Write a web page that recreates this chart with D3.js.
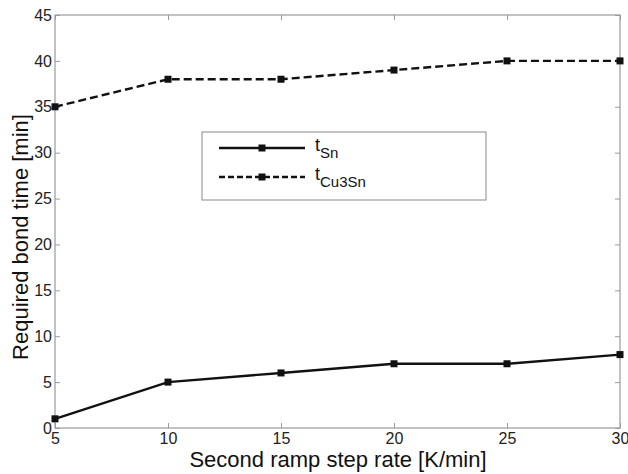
<!DOCTYPE html>
<html>
<head>
<meta charset="utf-8">
<script src="https://cdn.jsdelivr.net/npm/d3@7"></script>
<style>
  body { margin: 0; background: #fff; }
  text { font-family: "Liberation Sans", Arial, sans-serif; }
</style>
</head>
<body>
<div id="chart"></div>
<script>
// data
var rates = [5, 10, 15, 20, 25, 30];
var tSn = [1, 5, 6, 7, 7, 8];
var tCu3Sn = [35, 38, 38, 39, 40, 40];
var xTicks = [5, 10, 15, 20, 25, 30];
var yTicks = [0, 5, 10, 15, 20, 25, 30, 35, 40, 45];

var W = 628, H = 474;
var margin = {top: 15, right: 8, bottom: 46, left: 55},
    width = W - margin.left - margin.right,
    height = H - margin.top - margin.bottom;

var svg = d3.select("#chart").append("svg")
    .attr("width", W)
    .attr("height", H);

var g = svg.append("g")
    .attr("transform", "translate(" + margin.left + "," + margin.top + ")");

var x = d3.scaleLinear().domain([5, 30]).range([0, width]);
var y = d3.scaleLinear().domain([0, 45]).range([height, 0]);

var axisColor = "#9a9a9a";

// frame
g.append("rect")
  .attr("width", width).attr("height", height)
  .attr("fill", "none").attr("stroke", axisColor).attr("stroke-width", 1.2);

// axes (ticks inward, also on top/right)
function styleAxis(sel) {
  sel.select(".domain").remove();
  sel.selectAll(".tick line").attr("stroke", axisColor);
  sel.selectAll(".tick text").attr("fill", "#222").style("font-size", "16px")
     .style("font-family", "Liberation Sans, Arial, sans-serif");
}
g.append("g").attr("transform", "translate(0," + height + ")")
  .call(d3.axisBottom(x).tickValues(xTicks).tickSize(-5).tickPadding(5))
  .call(styleAxis);
g.append("g")
  .call(d3.axisLeft(y).tickValues(yTicks).tickSize(-5).tickPadding(3))
  .call(styleAxis);
g.append("g")
  .call(d3.axisTop(x).tickValues(xTicks).tickSize(-5).tickFormat(""))
  .call(styleAxis);
g.append("g").attr("transform", "translate(" + width + ",0)")
  .call(d3.axisRight(y).tickValues(yTicks).tickSize(-5).tickFormat(""))
  .call(styleAxis);

// axis labels
svg.append("text")
  .attr("x", 338).attr("y", 467)
  .attr("text-anchor", "middle").style("font-size", "22px").attr("fill", "#111")
  .text("Second ramp step rate [K/min]");
svg.append("text")
  .attr("transform", "translate(28,237) rotate(-90)")
  .attr("text-anchor", "middle").style("font-size", "22px").attr("fill", "#111")
  .text("Required bond time [min]");

var line = d3.line()
  .x(function(d, i) { return x(rates[i]); })
  .y(function(d) { return y(d); });

function drawSeries(values, dash) {
  g.append("path").datum(values)
    .attr("d", line)
    .attr("fill", "none").attr("stroke", "#111").attr("stroke-width", 2.4)
    .attr("stroke-dasharray", dash);
  g.selectAll(null).data(values).enter().append("rect")
    .attr("x", function(d, i) { return x(rates[i]) - 3.5; })
    .attr("y", function(d) { return y(d) - 3.5; })
    .attr("width", 7).attr("height", 7)
    .attr("fill", "#111");
}
drawSeries(tSn, null);
drawSeries(tCu3Sn, "8,4");

// legend
var leg = svg.append("g").attr("transform", "translate(202,132)");
leg.append("rect").attr("width", 284).attr("height", 68)
  .attr("fill", "#fff").attr("stroke", "#888").attr("stroke-width", 1);
var items = [{name: "Sn", dash: null, y: 16}, {name: "Cu3Sn", dash: "6,3", y: 45}];
items.forEach(function(it) {
  leg.append("line").attr("x1", 17).attr("x2", 103).attr("y1", it.y).attr("y2", it.y)
    .attr("stroke", "#111").attr("stroke-width", 2.4).attr("stroke-dasharray", it.dash);
  leg.append("rect").attr("x", 56.5).attr("y", it.y - 3.5).attr("width", 7).attr("height", 7)
    .attr("fill", "#111");
  var t = leg.append("text").attr("x", 113).attr("y", it.y + 3)
    .style("font-size", "18px").attr("fill", "#111");
  t.append("tspan").text("t");
  t.append("tspan").attr("dy", 7).style("font-size", "15px").text(it.name);
});
</script>
</body>
</html>
